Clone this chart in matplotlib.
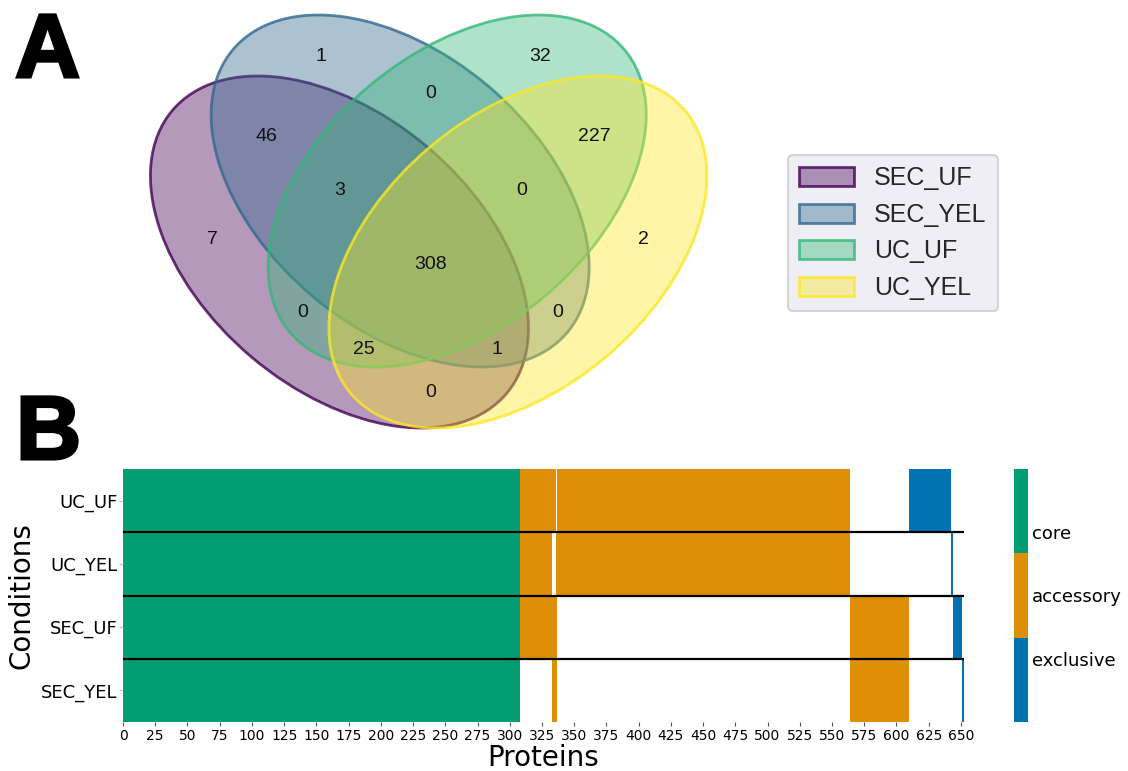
import numpy as np
import matplotlib
matplotlib.use("Agg")
import matplotlib.pyplot as plt
import matplotlib.patheffects as pe
from matplotlib.patches import Ellipse, Patch
from matplotlib.colors import ListedColormap, to_rgba

# ---- data ---------------------------------------------------------------
set_names = ["SEC_UF", "SEC_YEL", "UC_UF", "UC_YEL"]
# membership code (SEC_UF, SEC_YEL, UC_UF, UC_YEL) -> number of proteins
region_codes = ["0001", "0010", "0011", "0100", "0101", "0110", "0111",
                "1000", "1001", "1010", "1011", "1100", "1101", "1110", "1111"]
region_counts = [2, 32, 227, 1, 0, 0, 0, 7, 0, 0, 25, 46, 1, 3, 308]

heatmap_rows = ["UC_UF", "UC_YEL", "SEC_UF", "SEC_YEL"]
column_order = ["1111", "1011", "1110", "1101", "0011", "1100",
                "0010", "0001", "1000", "0100"]
class_labels = ["exclusive", "accessory", "core"]
x_ticks = list(range(0, 651, 25))

# ---- figure -------------------------------------------------------------
W, H = 1128, 771
fig = plt.figure(figsize=(W / 100, H / 100), dpi=100)


def fx(px):
    return px / W


def fy(py):
    return 1 - py / H


# ---- panel A: four-set Venn diagram -----------------------------------
ylo, yhi = 0.08, 0.81
y_px0 = 496 - ylo * 610
y_px1 = 496 - yhi * 610
axv = fig.add_axes([fx(127), fy(y_px0), 607 / W, (y_px0 - y_px1) / H])
axv.set_xlim(0, 1)
axv.set_ylim(ylo, yhi)
axv.set_axis_off()

venn_cmap = plt.get_cmap("viridis")
venn_colors = [venn_cmap(v) for v in np.linspace(0, 1, 4)]
ell_xy = [(0.350, 0.400), (0.450, 0.500), (0.544, 0.500), (0.644, 0.400)]
ell_angle = [140, 140, 40, 40]
for (cx, cy), ang, col in zip(ell_xy, ell_angle, venn_colors):
    axv.add_patch(Ellipse((cx, cy), 0.72, 0.45, angle=ang,
                          facecolor=to_rgba(col, 0.4),
                          edgecolor=to_rgba(col, 0.8), lw=2))

label_pos = {
    "0001": (.85, .42), "0010": (.68, .72), "0011": (.77, .59),
    "0100": (.32, .72), "0101": (.71, .30), "0110": (.50, .66),
    "0111": (.65, .50), "1000": (.14, .42), "1001": (.50, .17),
    "1010": (.29, .30), "1011": (.39, .24), "1100": (.23, .59),
    "1101": (.61, .24), "1110": (.35, .50), "1111": (.50, .38),
}
for code, n in zip(region_codes, region_counts):
    lx, ly = label_pos[code]
    axv.text(lx, ly, str(n), ha="center", va="center", fontsize=14,
             family="Liberation Sans", color="#111111")

handles = [Patch(facecolor=to_rgba(c, 0.4), edgecolor=to_rgba(c, 0.8), lw=2)
           for c in venn_colors]
leg = fig.legend(handles, set_names, loc="upper left",
                 bbox_to_anchor=(fx(788), fy(155)), borderaxespad=0,
                 prop={"family": "Liberation Sans", "size": 18},
                 handlelength=2.2, handleheight=0.8, handletextpad=0.8,
                 labelspacing=0.5, borderpad=0.45, frameon=True,
                 fancybox=True, facecolor="#eaeaf2", framealpha=0.8,
                 edgecolor="0.8")
for t in leg.get_texts():
    t.set_color("#262626")
leg.get_frame().set_linewidth(1.5)

# ---- panel B: protein presence map --------------------------------------
count_of = dict(zip(region_codes, region_counts))
columns = []
for code in column_order:
    k = code.count("1")
    cls = 2 if k == 4 else (0 if k == 1 else 1)
    columns += [(code, cls)] * count_of[code]
total = len(columns)

grid = np.full((len(heatmap_rows), total), np.nan)
for j, (code, cls) in enumerate(columns):
    for i, row in enumerate(heatmap_rows):
        if code[set_names.index(row)] == "1":
            grid[i, j] = cls

class_cmap = ListedColormap(["#0173b2", "#de8f05", "#029e73"])
axh = fig.add_axes([fx(123), fy(722), (963.5 - 123) / W, (722 - 469) / H])
mesh = axh.pcolormesh(np.arange(total + 1), np.arange(len(heatmap_rows) + 1),
                      np.ma.masked_invalid(grid), cmap=class_cmap,
                      vmin=0, vmax=2, antialiased=False, edgecolors="none")
axh.set_xlim(0, total)
axh.set_ylim(len(heatmap_rows), 0)
for yb in range(1, len(heatmap_rows)):
    axh.axhline(yb, color="black", lw=1.6)
for s in axh.spines.values():
    s.set_visible(False)
axh.set_xticks(x_ticks)
axh.set_xticklabels([str(v) for v in x_ticks], fontsize=10)
axh.set_yticks(np.arange(len(heatmap_rows)) + 0.5)
axh.set_yticklabels(heatmap_rows, fontsize=13)
axh.tick_params(axis="x", length=3, width=0.8, color="#555555", pad=2)
axh.tick_params(axis="y", length=3, width=0.8, color="#bbbbbb", pad=1)
axh.set_xlabel("Proteins", fontsize=20, labelpad=1)
axh.set_ylabel("Conditions", fontsize=20, labelpad=4)

cax = fig.add_axes([fx(1014), fy(722), 14 / W, (722 - 469) / H])
cbar = fig.colorbar(mesh, cax=cax, ticks=[0.5, 1.0, 1.5])
cbar.ax.set_yticklabels(class_labels, fontsize=13)
cbar.outline.set_visible(False)
cbar.ax.tick_params(length=0, pad=3)

# ---- panel letters ------------------------------------------------------
heavy = [pe.withStroke(linewidth=2.2, foreground="black", joinstyle="miter")]
fig.text(fx(15), fy(77), "A", fontsize=65, fontweight="bold",
         family="Liberation Sans", ha="left", va="baseline",
         path_effects=heavy)
fig.text(fx(16), fy(459), "B", fontsize=65, fontweight="bold",
         family="Liberation Sans", ha="left", va="baseline",
         path_effects=heavy)

fig.savefig("out.png", dpi=100)
